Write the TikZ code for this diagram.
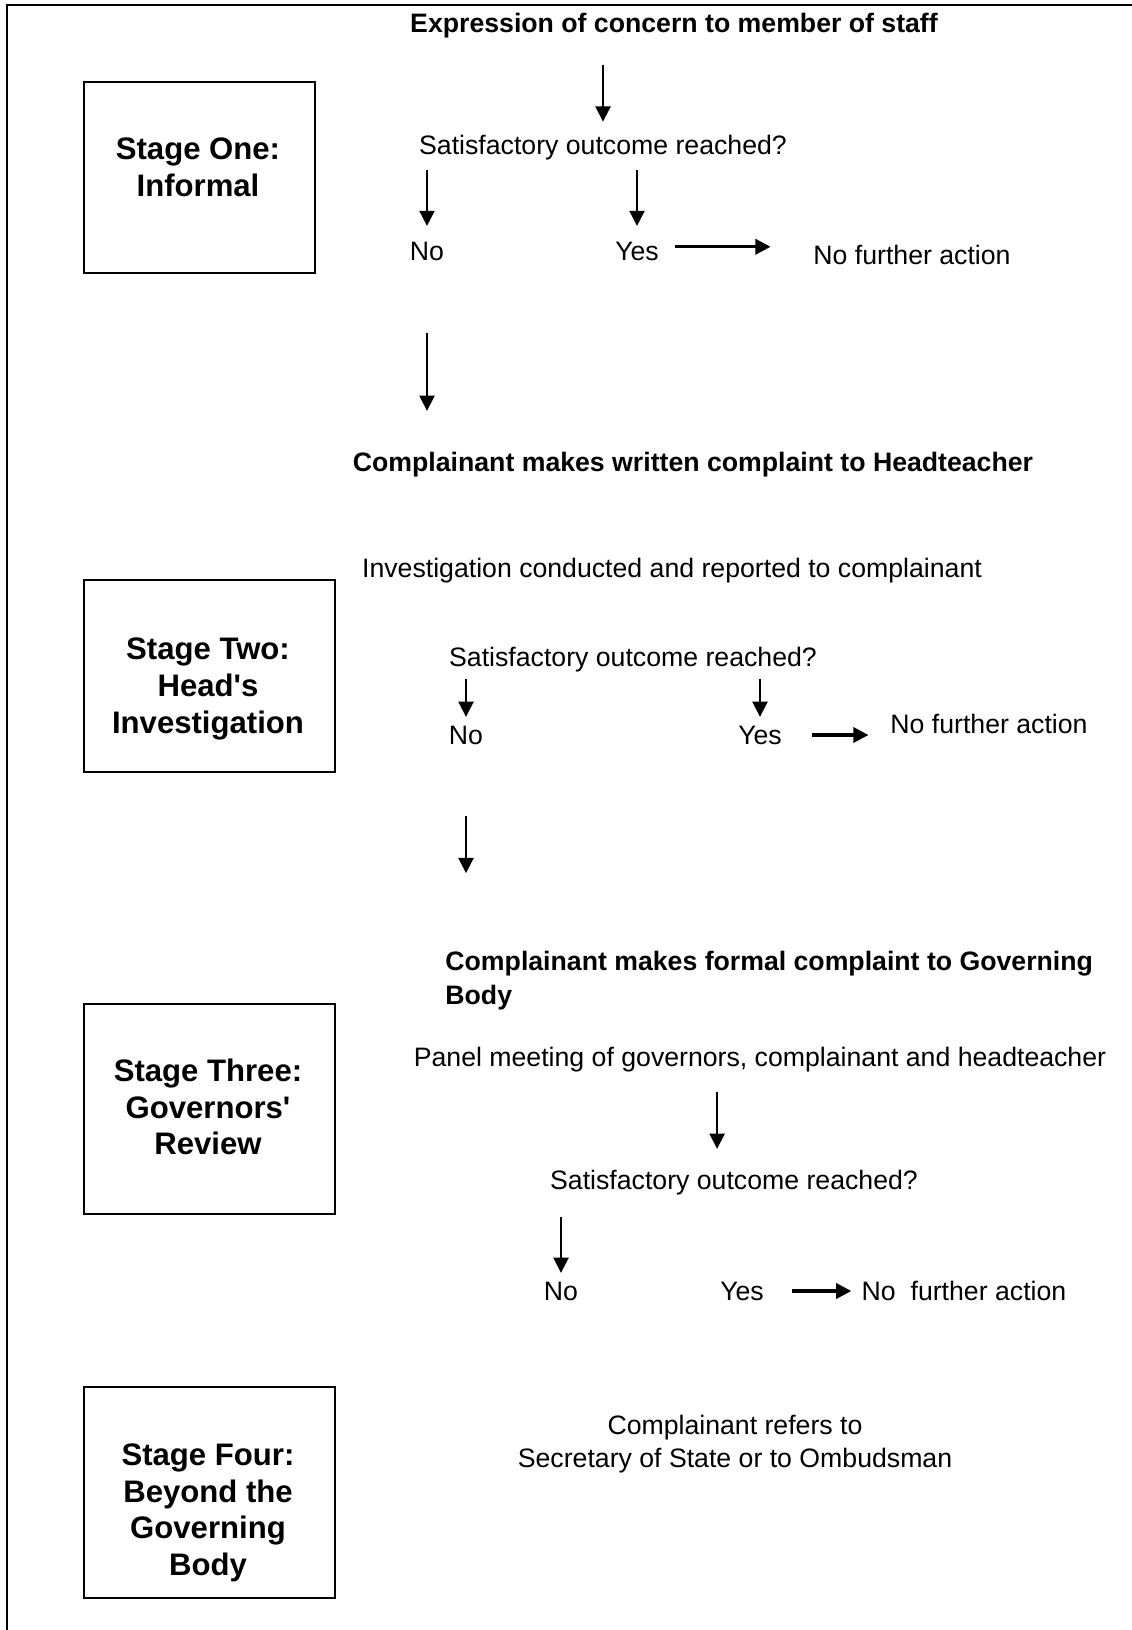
\documentclass[tikz,border=0pt]{standalone}
\usepackage{fontspec}
\setmainfont{Liberation Sans}[Ligatures=TeXOff]
\usetikzlibrary{arrows.meta,positioning}

\begin{document}
\begin{tikzpicture}[
  x=0.45pt, y=-0.45pt,
  stagebox/.style={draw, rectangle, line width=0.9pt, inner sep=0pt},
  stagetext/.style={align=center, inner sep=0pt, font=\fontsize{14}{16.5}\selectfont\bfseries},
  info/.style={align=center, inner sep=0pt, font=\fontsize{12}{14.9}\selectfont},
  headline/.style={align=left, inner sep=0pt, font=\fontsize{12}{15.3}\selectfont\bfseries},
  arrow/.style={-{Triangle[length=6.8pt,width=6.8pt]}, line width=0.8pt},
  thickarrow/.style={arrow, line width=1.4pt},
  frame/.style={line width=0.9pt}
]
\useasboundingbox (0,0) rectangle (1132,1630);

% Outer frame (top and left edge only)
\draw[frame] (7,1630) -- (7,5) -- (1132,5);

% Stage boxes
\node[stagebox, minimum width=104pt, minimum height=86pt] (s1) at (199.5,177.5) {};
\node[stagetext] (s1t) at (198,167) {Stage One:\\Informal};
\node[stagebox, minimum width=113pt, minimum height=86.4pt] (s2) at (209.5,676) {};
\node[stagetext] (s2t) at (208,689) {Stage Two:\\Head's\\Investigation};
\node[stagebox, minimum width=113pt, minimum height=94.5pt] (s3) at (209.5,1109) {};
\node[stagetext] (s3t) at (208,1107) {Stage Three:\\Governors'\\Review};
\node[stagebox, minimum width=113pt, minimum height=95pt] (s4) at (209.5,1492.5) {};
\node[stagetext] (s4t) at (208,1513) {Stage Four:\\Beyond the\\Governing\\Body};

% Stage One
\node[headline] (h1) at (674,26) {Expression of concern to member of staff};
\node[info] (q1) at (603,148) {Satisfactory outcome reached?};
\node[info] (no1) at (427,251) {No};
\node[info] (yes1) at (637,251) {Yes};
\node[info] (nfa1) at (912,255) {No further action};

\draw[arrow, shorten <=11.6pt, shorten >=6.1pt] (h1.south -| q1.north) -- (q1.north);
\draw[arrow, shorten <=3.9pt, shorten >=6.9pt] (q1.south -| no1.north) -- (no1.north);
\draw[arrow, shorten <=3.9pt, shorten >=6.9pt] (q1.south -| yes1.north) -- (yes1.north);
\draw[thickarrow, shorten <=7.2pt, shorten >=19.1pt, transform canvas={yshift=1.9pt}] (yes1.east) -- (yes1.east -| nfa1.west);

% Stage Two
\node[headline] (h2) at (693,465) {Complainant makes written complaint to Headteacher};
\node[info] (inv) at (672,571) {Investigation conducted and reported to complainant};
\node[info] (q2) at (633,660) {Satisfactory outcome reached?};
\node[info] (no2) at (466,735) {No};
\node[info] (yes2) at (760,735) {Yes};
\node[info] (nfa2) at (989,724) {No further action};

\draw[arrow, shorten <=32.6pt, shorten >=18.6pt] (no1.south) -- (no1.south |- h2.north);
\draw[arrow, shorten <=2.6pt, shorten >=3.8pt] (q2.south -| no2.north) -- (no2.north);
\draw[arrow, shorten <=2.6pt, shorten >=3.8pt] (q2.south -| yes2.north) -- (yes2.north);
\draw[thickarrow, shorten <=13.5pt, shorten >=9.7pt] (yes2.east) -- (yes2.east -| nfa2.west);

% Stage Three
\node[headline, anchor=north west] (h3) at (445,950.4) {Complainant makes formal complaint to Governing\\Body};
\node[info] (panel) at (760,1060) {Panel meeting of governors, complainant and headteacher};
\node[info] (q3) at (734,1183) {Satisfactory outcome reached?};
\node[info] (no3) at (561,1291) {No};
\node[info] (yes3) at (742,1291) {Yes};
\node[info] (nfa3) at (964,1291) {No\ \ further action};

\draw[arrow, shorten <=32.2pt, shorten >=34.8pt] (no2.south) -- (no2.south |- h3.north);
\draw[arrow, shorten <=8.5pt, shorten >=9.6pt, transform canvas={xshift=-7.6pt}] (panel.south -| q3.north) -- (q3.north);
\draw[arrow, shorten <=9.4pt, shorten >=3.8pt] (q3.south -| no3.north) -- (no3.north);
\draw[thickarrow, shorten <=12.6pt, shorten >=4.5pt] (yes3.east) -- (yes3.east -| nfa3.west);

% Stage Four
\node[info] (ref) at (735,1444) {Complainant refers to\\Secretary of State or to Ombudsman};

\end{tikzpicture}
\end{document}
